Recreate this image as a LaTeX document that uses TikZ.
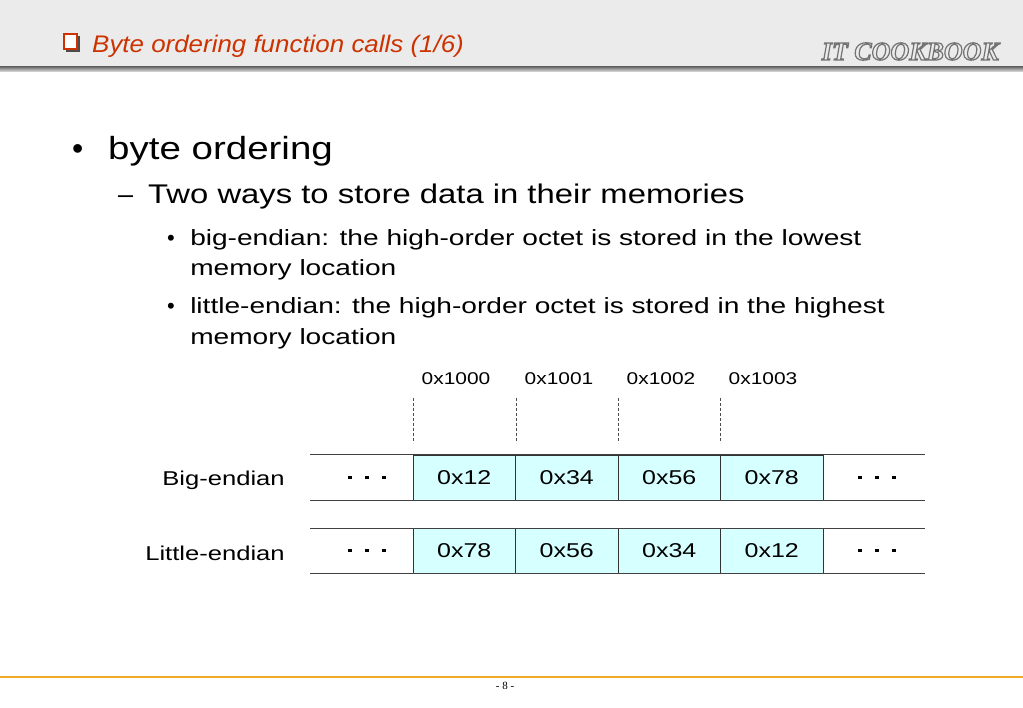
\documentclass[tikz,border=0pt]{standalone}
\usepackage{fontspec}
\setmainfont{Liberation Sans}
\newfontfamily\serifx{Liberation Serif}
\usetikzlibrary{calc}
\definecolor{titlered}{RGB}{204,51,0}
\definecolor{cellcyan}{RGB}{214,255,255}
\definecolor{hdrgray}{RGB}{235,235,235}
\definecolor{footorange}{RGB}{240,170,40}
\tikzset{
  cell/.style={draw=black!80, fill=cellcyan, minimum width=102.5pt, minimum height=45pt, inner sep=0pt, font=\fontsize{20}{20}\selectfont, line width=0.6pt},
  celltxt/.style={font=\fontsize{20}{20}\selectfont, inner sep=0pt, xscale=1.25},
  addr/.style={font=\fontsize{17}{17}\selectfont, inner sep=0pt, xscale=1.23},
  dashv/.style={black!70, line width=0.5pt, dash pattern=on 3pt off 2pt},
  rowline/.style={black!75, line width=1pt},
  lbl/.style={font=\fontsize{20}{20}\selectfont, anchor=east, inner sep=0pt, xscale=1.28},
  dotsq/.style={fill=black, minimum size=3.5pt, inner sep=0pt},
  body/.style={anchor=base west, inner sep=0pt, xscale=1.24}
}
\begin{document}
\begin{tikzpicture}[x=1pt,y=-1pt]
\useasboundingbox (0,0) rectangle (1023,708);
\fill[white] (0,0) rectangle (1023,708);
% header
\fill[hdrgray] (0,0) rectangle (1023,67);
\shade[top color=black!55, bottom color=black!10] (0,67) rectangle (1023,72);
\fill[black!70] (66,36) rectangle (80,52);
\draw[titlered, fill=white, line width=1.2pt] (64,34) rectangle (77,49);
\node[anchor=base west, inner sep=0pt, text=titlered, font=\fontsize{24}{24}\selectfont\itshape, xscale=1.08] (title) at (92,53)
  {Byte ordering function calls (1/6)};
\node[anchor=base east, inner sep=0pt, font=\fontsize{26}{26}\selectfont\serifx\bfseries\itshape] (logo) at (999,60)
  {\special{pdf:literal 1 Tr 1.2 w 0.45 0.45 0.45 RG}IT COOKBOOK\special{pdf:literal 0 Tr}};
% bullets
\node[anchor=base west, inner sep=0pt, font=\fontsize{32}{32}\selectfont] (b1) at (72,160) {•};
\node[body, font=\fontsize{32}{32}\selectfont, xscale=0.97] (t1) at (108,160) {byte ordering};
\node[anchor=base west, inner sep=0pt, font=\fontsize{27}{27}\selectfont] (d1) at (118,204) {–};
\node[body, font=\fontsize{27}{27}\selectfont, xscale=0.98] (t2) at (148,204) {Two ways to store data in their memories};
\node[anchor=base west, inner sep=0pt, font=\fontsize{22}{22}\selectfont] (b3) at (167,246) {•};
\node[body, font=\fontsize{22}{22}\selectfont, xscale=1.03] (t3) at (190,246) {big-endian: the high-order octet is stored in the lowest};
\node[body, font=\fontsize{22}{22}\selectfont, xscale=1.03] (t3b) at (190,276) {memory location};
\node[anchor=base west, inner sep=0pt, font=\fontsize{22}{22}\selectfont] (b4) at (167,314) {•};
\node[body, font=\fontsize{22}{22}\selectfont, xscale=1.03] (t4) at (190,314) {little-endian: the high-order octet is stored in the highest};
\node[body, font=\fontsize{22}{22}\selectfont, xscale=1.03] (t4b) at (190,345) {memory location};
% addresses
\foreach \i/\a/\x in {0/0x1000/456,1/0x1001/559,2/0x1002/661,3/0x1003/763}{
  \node[addr] (a\i) at (\x,379) {\a};
  \draw[dashv] ($(\x,398)-(43,0)$) -- ($(\x,443)-(43,0)$);
}
% rows
\foreach \r/\y/\vals in {big/477.5/{0x12,0x34,0x56,0x78}, lit/550.5/{0x78,0x56,0x34,0x12}}{
  \foreach \v [count=\k] in \vals {
    \node[cell] (\r\k) at ({413+102.5*(\k-0.5)},\y) {};
    \node[celltxt] at (\r\k) {\v};
  }
  \draw[rowline] (310,\y-22.5) -- (925,\y-22.5);
  \draw[rowline] (310,\y+22.5) -- (925,\y+22.5);
  \foreach \cx in {350,367,384,860,877,894}{
    \node[dotsq] at (\cx,\y) {};
  }
}
\node[lbl] (lb) at (285,480) {Big-endian};
\node[lbl] (ll) at (285,553) {Little-endian};
% footer
\draw[footorange, line width=1.5pt] (0,677) -- (1023,677);
\node[font=\fontsize{11}{11}\selectfont\serifx, inner sep=0pt] (pg) at (505,686) {- 8 -};
\end{tikzpicture}
\end{document}
